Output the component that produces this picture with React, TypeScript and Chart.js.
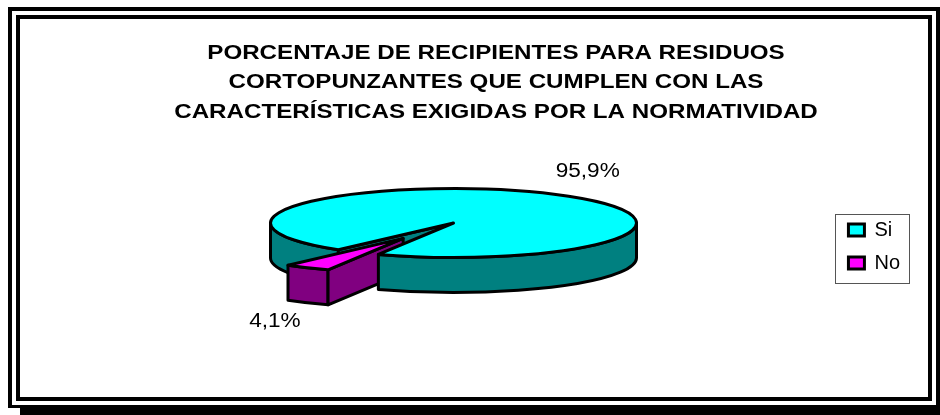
import React, { useEffect, useRef } from "react";
import { Chart, registerables } from "chart.js";

Chart.register(...registerables);

const categories = ["Si", "No"];
const seriesValues = [95.9, 4.1];
const valueLabels = ["95,9%", "4,1%"];
const sliceColors = ["#00FFFF", "#FF00FF"];
const wallColors = ["#008080", "#800080"];
const sliceExplode = [0, 96];
const titleLines = [
  "PORCENTAJE DE RECIPIENTES PARA RESIDUOS",
  "CORTOPUNZANTES QUE CUMPLEN CON LAS",
  "CARACTERÍSTICAS EXIGIDAS POR LA NORMATIVIDAD",
];

const FONT = "'Liberation Sans', Arial, sans-serif";
const SQUASH = 0.1885;
const DEPTH = 35;
const CX = 453.5;
const CY = 223;
const LINE = 3;
const TITLE_CENTER = 496;
const TITLE_STRETCH = 1.15;

type Geo = { x: number; y: number; start: number; end: number; r: number };

// Screen geometry of a slice, read from the arc element the library laid out.
function geometry(chart: any, i: number): Geo {
  const data = chart.getDatasetMeta(0).data;
  const arc = data[i];
  return {
    x: CX + (arc.x - data[0].x),
    y: CY + (arc.y - data[0].y) * SQUASH,
    start: arc.startAngle,
    end: arc.endAngle,
    r: arc.outerRadius,
  };
}
const pt = (g: Geo, a: number, r = g.r) => [g.x + Math.cos(a) * r, g.y + Math.sin(a) * r * SQUASH];

function paint(ctx: CanvasRenderingContext2D, fill: string) {
  ctx.fillStyle = fill;
  ctx.fill();
  ctx.strokeStyle = "#000";
  ctx.lineWidth = LINE;
  ctx.lineJoin = "round";
  ctx.stroke();
}

// outer wall between two canvas angles lying on the front half
function outerWall(ctx: CanvasRenderingContext2D, g: Geo, a0: number, a1: number, fill: string) {
  ctx.beginPath();
  ctx.ellipse(g.x, g.y, g.r, g.r * SQUASH, 0, a0, a1);
  ctx.ellipse(g.x, g.y + DEPTH, g.r, g.r * SQUASH, 0, a1, a0, true);
  ctx.closePath();
  paint(ctx, fill);
}
function radialWall(ctx: CanvasRenderingContext2D, g: Geo, a: number, fill: string) {
  const [px, py] = pt(g, a);
  ctx.beginPath();
  ctx.moveTo(g.x, g.y);
  ctx.lineTo(px, py);
  ctx.lineTo(px, py + DEPTH);
  ctx.lineTo(g.x, g.y + DEPTH);
  ctx.closePath();
  paint(ctx, fill);
}

const norm = (a: number) => {
  const t = Math.PI * 2;
  return ((a % t) + t) % t;
};

const pie3d = {
  id: "pie3d",
  afterDatasetUpdate(chart: any) {
    chart.getDatasetMeta(0).data.forEach((arc: any, i: number) => {
      const mid = (arc.startAngle + arc.endAngle) / 2;
      arc.x += Math.cos(mid) * sliceExplode[i];
      arc.y += Math.sin(mid) * sliceExplode[i];
    });
  },
  beforeDraw(chart: any) {
    const ctx = chart.ctx as CanvasRenderingContext2D;
    const { width, height } = chart;
    ctx.save();
    ctx.fillStyle = "#fff";
    ctx.fillRect(0, 0, width, height);
    ctx.fillStyle = "#000";
    // shadow of the frame
    ctx.fillRect(20, 405, 920, 10);
    ctx.fillRect(8, 405, 12, 3);
    ctx.fillRect(936, 7, 4, 408);
    // double frame
    ctx.fillRect(8, 7, 932, 4);
    ctx.fillRect(8, 7, 4, 401);
    ctx.fillRect(16, 15, 916, 4);
    ctx.fillRect(16, 15, 4, 386);
    ctx.fillRect(928, 15, 4, 386);
    ctx.fillRect(16, 397, 916, 4);
    ctx.restore();

    const tb = chart.titleBlock;
    if (tb && !tb.__stretched) {
      tb.__stretched = true;
      const original = tb.draw;
      tb.draw = function () {
        const c = this.ctx as CanvasRenderingContext2D;
        c.save();
        c.translate(TITLE_CENTER, 0);
        c.scale(TITLE_STRETCH, 1);
        c.translate(-(this.left + this.width / 2), 0);
        original.call(this);
        c.restore();
      };
    }
  },
  beforeDatasetDraw(chart: any) {
    const ctx = chart.ctx as CanvasRenderingContext2D;
    const si = geometry(chart, 0);
    const no = geometry(chart, 1);
    const siEnd = norm(si.end); // right edge of the gap
    const siStart = norm(si.start); // left edge of the gap
    ctx.save();
    // Si, behind the exploded slice
    outerWall(ctx, si, siStart, Math.PI, wallColors[0]);
    radialWall(ctx, si, siStart, wallColors[0]);
    // No, walls
    outerWall(ctx, no, norm(no.start), norm(no.end), wallColors[1]);
    radialWall(ctx, no, norm(no.start), wallColors[1]);
    // Si, in front
    outerWall(ctx, si, 0, siEnd, wallColors[0]);
    ctx.restore();
    // squash the library's own top faces
    const arc = chart.getDatasetMeta(0).data[0];
    ctx.save();
    ctx.translate(CX, CY);
    ctx.scale(1, SQUASH);
    ctx.translate(-arc.x, -arc.y);
  },
  afterDatasetDraw(chart: any) {
    const ctx = chart.ctx as CanvasRenderingContext2D;
    ctx.restore();
    ctx.save();
    ctx.strokeStyle = "#000";
    ctx.lineWidth = LINE;
    ctx.lineJoin = "round";
    [0, 1].forEach((i) => {
      const g = geometry(chart, i);
      ctx.beginPath();
      ctx.moveTo(g.x, g.y);
      ctx.ellipse(g.x, g.y, g.r, g.r * SQUASH, 0, g.start, g.end);
      ctx.closePath();
      ctx.stroke();
    });
    // value labels
    ctx.fillStyle = "#000";
    ctx.font = `20px ${FONT}`;
    ctx.textAlign = "center";
    ctx.textBaseline = "middle";
    [0, 1].forEach((i) => {
      const g = geometry(chart, i);
      const mid = (g.start + g.end) / 2;
      const [lx, ly] = pt(g, mid, g.r * 1.42);
      const front = Math.sin(mid) > 0;
      const tx = lx + (front ? 8 : -2);
      const ty = ly + (front ? DEPTH + 6 : -10);
      ctx.save();
      ctx.translate(tx, ty);
      ctx.scale(1.13, 1);
      ctx.fillText(valueLabels[i], 0, 0);
      ctx.restore();
    });
    ctx.restore();
  },
  afterDraw(chart: any) {
    const ctx = chart.ctx as CanvasRenderingContext2D;
    ctx.save();
    ctx.strokeStyle = "#555";
    ctx.lineWidth = 1;
    ctx.strokeRect(835.5, 214.5, 74, 69);
    ctx.restore();
  },
};

export default function App() {
  const ref = useRef<HTMLCanvasElement>(null);
  useEffect(() => {
    document.body.style.margin = "0";
    const chart = new Chart(ref.current!, {
      type: "pie",
      data: {
        labels: categories,
        datasets: [
          {
            data: seriesValues,
            backgroundColor: sliceColors,
            borderWidth: 0,
            clip: false,
          } as any,
        ],
      },
      plugins: [pie3d],
      options: {
        animation: false,
        responsive: false,
        rotation: 219,
        radius: 183,
        layout: { padding: { left: 20, right: 30, top: 38.5, bottom: 48.5 } },
        plugins: {
          tooltip: { enabled: false },
          title: {
            display: true,
            text: titleLines,
            color: "#000",
            font: { family: FONT, size: 21, weight: "bold", lineHeight: 1.4 },
            padding: 0,
          },
          legend: {
            position: "right",
            fullSize: false,
            labels: {
              color: "#000",
              font: { family: FONT, size: 20 },
              boxWidth: 16,
              boxHeight: 12,
              padding: 13,
              generateLabels(c: any) {
                const base = (Chart as any).overrides.pie.plugins.legend.labels.generateLabels(c);
                return base.map((it: any) => ({ ...it, strokeStyle: "#000", lineWidth: 3 }));
              },
            },
          },
        },
      } as any,
    });
    return () => chart.destroy();
  }, []);
  return <canvas ref={ref} width={940} height={415} style={{ display: "block", width: 940, height: 415 }} />;
}
